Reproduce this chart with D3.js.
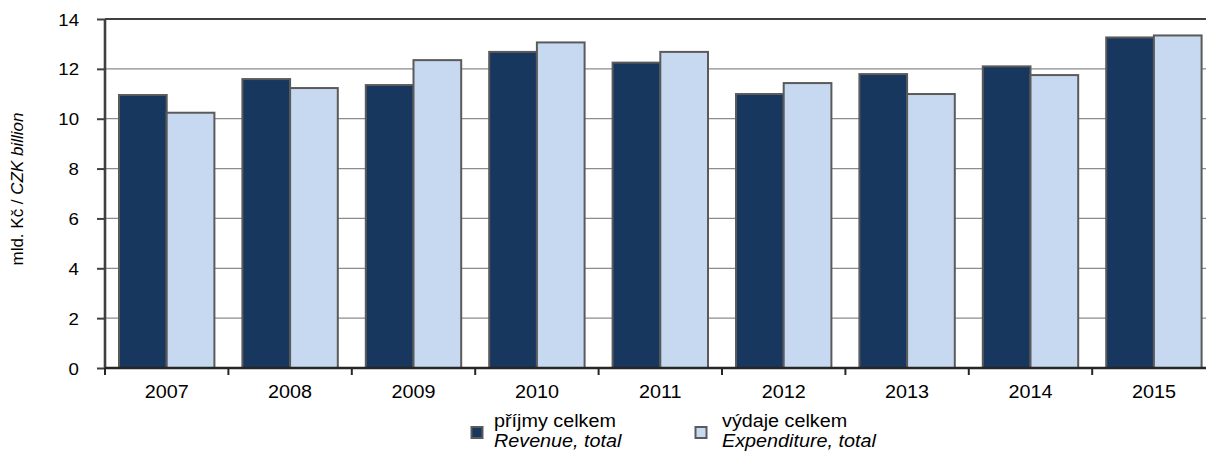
<!DOCTYPE html>
<html>
<head>
<meta charset="utf-8">
<script src="https://cdn.jsdelivr.net/npm/d3@7/dist/d3.min.js"></script>
<style>
html,body{margin:0;padding:0;background:#fff;}
svg{display:block;font-family:"Liberation Sans",Arial,sans-serif;}
</style>
</head>
<body>
<svg id="chart" width="1206" height="455"></svg>
<script>
const categories = ["2007","2008","2009","2010","2011","2012","2013","2014","2015"];
const revenue = [10.95, 11.59, 11.35, 12.68, 12.25, 10.99, 11.79, 12.10, 13.26];
const expenditure = [10.24, 11.23, 12.35, 13.06, 12.68, 11.43, 10.99, 11.75, 13.34];
const seriesKeys = ["rev", "exp"];
const seriesCz = ["příjmy celkem", "výdaje celkem"];
const seriesEn = ["Revenue, total", "Expenditure, total"];
const yTicks = [0, 2, 4, 6, 8, 10, 12, 14];

const colors = {rev: "#17375e", exp: "#c6d9f1"};
const svg = d3.select("#chart");
const pLeft = 105, pTop = 19, pBottom = 368, bandW = 123.4;
const pRight = pLeft + bandW * categories.length;
const sx = 1.13;

const x0 = d3.scaleBand().domain(categories).range([pLeft, pRight]).padding(0);
const x1 = d3.scaleBand().domain(seriesKeys).range([14, bandW - 14]).padding(0);
const y = d3.scaleLinear().domain([0, 14]).range([pBottom, pTop]);

// gridlines
svg.append("g").selectAll("line").data(yTicks.filter(t => t > 0 && t < 14)).join("line")
  .attr("x1", pLeft).attr("x2", pRight).attr("y1", d => y(d)).attr("y2", d => y(d))
  .attr("stroke", "#8c8c8c").attr("stroke-width", 1.2);

// top border
svg.append("line").attr("x1", pLeft).attr("x2", pRight).attr("y1", y(14)).attr("y2", y(14))
  .attr("stroke", "#404040").attr("stroke-width", 2.2);

// bars
const data = categories.map((c, i) => ({cat: c, rev: revenue[i], exp: expenditure[i]}));
const groups = svg.append("g").selectAll("g").data(data).join("g")
  .attr("transform", d => `translate(${x0(d.cat)},0)`);
groups.selectAll("rect").data(d => seriesKeys.map(k => ({key: k, value: d[k]}))).join("rect")
  .attr("x", d => x1(d.key)).attr("width", x1.bandwidth())
  .attr("y", d => y(d.value)).attr("height", d => y(0) - y(d.value))
  .attr("fill", d => colors[d.key]).attr("stroke", "#5a5a5a").attr("stroke-width", 2);

// y axis
const yAxis = svg.append("g").attr("transform", `translate(${pLeft},0)`)
  .call(d3.axisLeft(y).tickValues(yTicks).tickSize(8).tickPadding(0).tickFormat(d3.format("d")));
yAxis.select(".domain").attr("stroke", "#404040").attr("stroke-width", 2.6).attr("d", `M0,${pTop}V${pBottom}`);
yAxis.selectAll(".tick line").attr("stroke", "#404040").attr("stroke-width", 2);
yAxis.selectAll(".tick text").each(function(d) {
  const t = d3.select(this);
  t.attr("x", null).attr("dy", null)
   .attr("transform", `translate(-26,6) scale(${sx},1)`)
   .attr("font-size", 16.5).attr("fill", "#000").attr("text-anchor", "end");
});

// x axis
const xAxis = svg.append("g").attr("transform", `translate(0,${pBottom})`)
  .call(d3.axisBottom(x0).tickSize(0).tickPadding(0));
xAxis.select(".domain").attr("stroke", "#262626").attr("stroke-width", 2.6).attr("d", `M${pLeft},0H${pRight}`);
xAxis.selectAll(".tick text").each(function() {
  d3.select(this).attr("y", null).attr("dy", null)
    .attr("transform", `translate(0,29.5) scale(${sx},1)`)
    .attr("font-size", 17.5).attr("fill", "#000");
});
// category boundary ticks
svg.append("g").selectAll("line").data(d3.range(categories.length + 1)).join("line")
  .attr("x1", i => pLeft + i * x0.step()).attr("x2", i => pLeft + i * x0.step())
  .attr("y1", pBottom).attr("y2", pBottom + 7)
  .attr("stroke", "#262626").attr("stroke-width", 2);
svg.selectAll("g").attr("font-family", null);

// y label
const yl = svg.append("text").attr("transform", "translate(23,189) rotate(-90)")
  .attr("text-anchor", "middle").attr("font-size", 17).attr("fill", "#000");
yl.append("tspan").text("mld. Kč / ");
yl.append("tspan").attr("font-style", "italic").text("CZK billion");

// legend
const legX = [471, 695];
seriesKeys.forEach((k, i) => {
  const g = svg.append("g").attr("transform", `translate(${legX[i]},0)`);
  g.append("rect").attr("x", 0.5).attr("y", 427).attr("width", 11).attr("height", 11)
    .attr("fill", colors[k]).attr("stroke", "#5a5a5a").attr("stroke-width", 2);
  g.append("text").attr("transform", `translate(${i === 0 ? 23 : 27},427) scale(${sx},1)`)
    .attr("font-size", 17.5).attr("fill", "#000").text(seriesCz[i]);
  g.append("text").attr("transform", `translate(${i === 0 ? 23 : 27},447) scale(${sx},1)`)
    .attr("font-size", 17.5).attr("font-style", "italic").attr("fill", "#000").text(seriesEn[i]);
});
</script>
</body>
</html>
